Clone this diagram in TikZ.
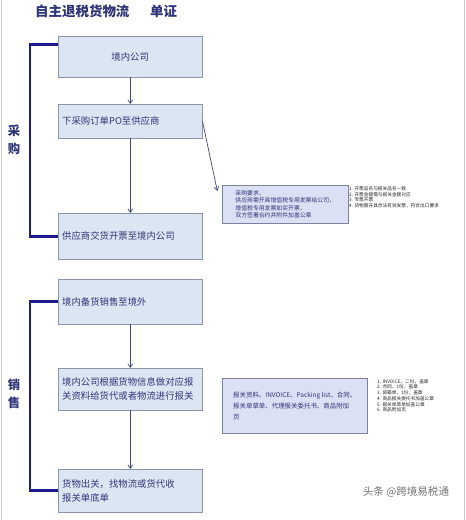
\documentclass[tikz,border=0pt]{standalone}
\usepackage{fontspec}
\setmainfont{Noto Sans CJK SC}
\usepackage{tikz}
\usetikzlibrary{positioning}
\usetikzlibrary{arrows.meta}
\usepackage{xcolor}
\definecolor{boxblue}{HTML}{DCE6F2}
\definecolor{boxedge}{HTML}{8C96A8}
\definecolor{notefill}{HTML}{DCE0F4}
\definecolor{noteedge}{HTML}{7E829C}
\definecolor{txtblue}{HTML}{2E3478}
\definecolor{barblue}{HTML}{1C1C8C}
\definecolor{arrblue}{HTML}{45457E}

\begin{document}
\begin{tikzpicture}[x=0.03cm, y=-0.03cm,
  main/.style = {draw=boxedge, fill=boxblue, anchor=north west, minimum width=4.32cm, text width=4.08cm, inner xsep=0.12cm, align=left, text=txtblue, font=\fontsize{8}{12}\selectfont},
  note/.style = {draw=noteedge, fill=notefill, anchor=north west, inner xsep=0.15cm, align=left, text=txtblue, font=\fontsize{5}{6.2}\selectfont},
  list/.style = {anchor=north west, inner sep=0pt, align=left, text=black!85, font=\fontsize{4}{5}\selectfont},
  side/.style = {align=center, text=txtblue, font=\fontsize{10.5}{15}\selectfont\bfseries},
  arr/.style = {-{Straight Barb[length=3pt,width=4pt]}, draw=arrblue, line width=0.6pt},
  bracket/.style = {draw=barblue, line width=2.4pt}]
\useasboundingbox (0,0) rectangle (466,520);
\draw[black!20] (1.5,0) -- (1.5,520) (464.5,0) -- (464.5,520);

% title
\node[anchor=west, text=txtblue, font=\fontsize{11.5}{14}\selectfont\bfseries] (title) at (31,11) {自主退税货物流\hspace{0.62cm}单证};

% purchasing
\node[main, minimum height=1.23cm, align=center] (b1) at (58,36) {境内公司};
\node[main, minimum height=1.02cm] (b2) at (58,104) {下采购订单PO至供应商};
\node[main, minimum height=1.38cm] (b3) at (58,213) {供应商交货开票至境内公司};
\node[note, minimum width=3.78cm, minimum height=1.14cm] (r1) at (222,185) {采购要求，\\供应商需开具增值税专用发票给公司，\\增值税专用发票如实开票，\\双方签署合约并附件加盖公章};
\node[list] (l1) at (349,186) {1. 开票品名与报关品名一致\\2. 开票金额需与报关金额对应\\3. 专票开票\\4. 货物需开具合法有效发票，符合出口要求};
\node[side] (cg) at (14,140) {采\\购};

\path (b1) edge [arr] (b2);
\path (b2) edge [arr] (b3);
\path (b2.east) edge [arr] ([xshift=-4pt,yshift=-5pt]r1.north west);
\draw[bracket] ([yshift=0.375cm]b1.west) -- ++(-28,0) |- (b3.west);

% sales
\node[main, minimum height=1.35cm] (b4) at (58,279) {境内备货销售至境外};
\node[main, minimum height=1.26cm] (b5) at (58,368) {境内公司根据货物信息做对应报\\关资料给货代或者物流进行报关};
\node[main, minimum height=1.29cm] (b6) at (58,469) {货物出关，找物流或货代收\\报关单底单};
\node[note, minimum width=4.35cm, minimum height=1.65cm, font=\fontsize{5.5}{9.4}\selectfont] (r2) at (222,378) {报关资料、INVOICE、Packing list、合同、\\报关单草单、代理报关委托书、商品附加\\页};
\node[list, font=\fontsize{4}{4.9}\selectfont] (l2) at (377,379) {1. INVOICE，二份，盖章\\2. 合同，1份，盖章\\3. 装箱单，1份，盖章\\4. 商品报关委托书加盖公章\\5. 报关单草单加盖公章\\6. 商品附加页};
\node[side] (xs) at (14,394) {销\\售};

\path (b4) edge [arr] (b5);
\path (b5) edge [arr] (b6);
\draw[bracket] (b4.west) -- ++(-28,0) |- (b6.west);

\node[text=black!55, font=\fontsize{9}{11}\selectfont] (wm) at (406,492) {头条 @跨境易税通};
\end{tikzpicture}
\end{document}
